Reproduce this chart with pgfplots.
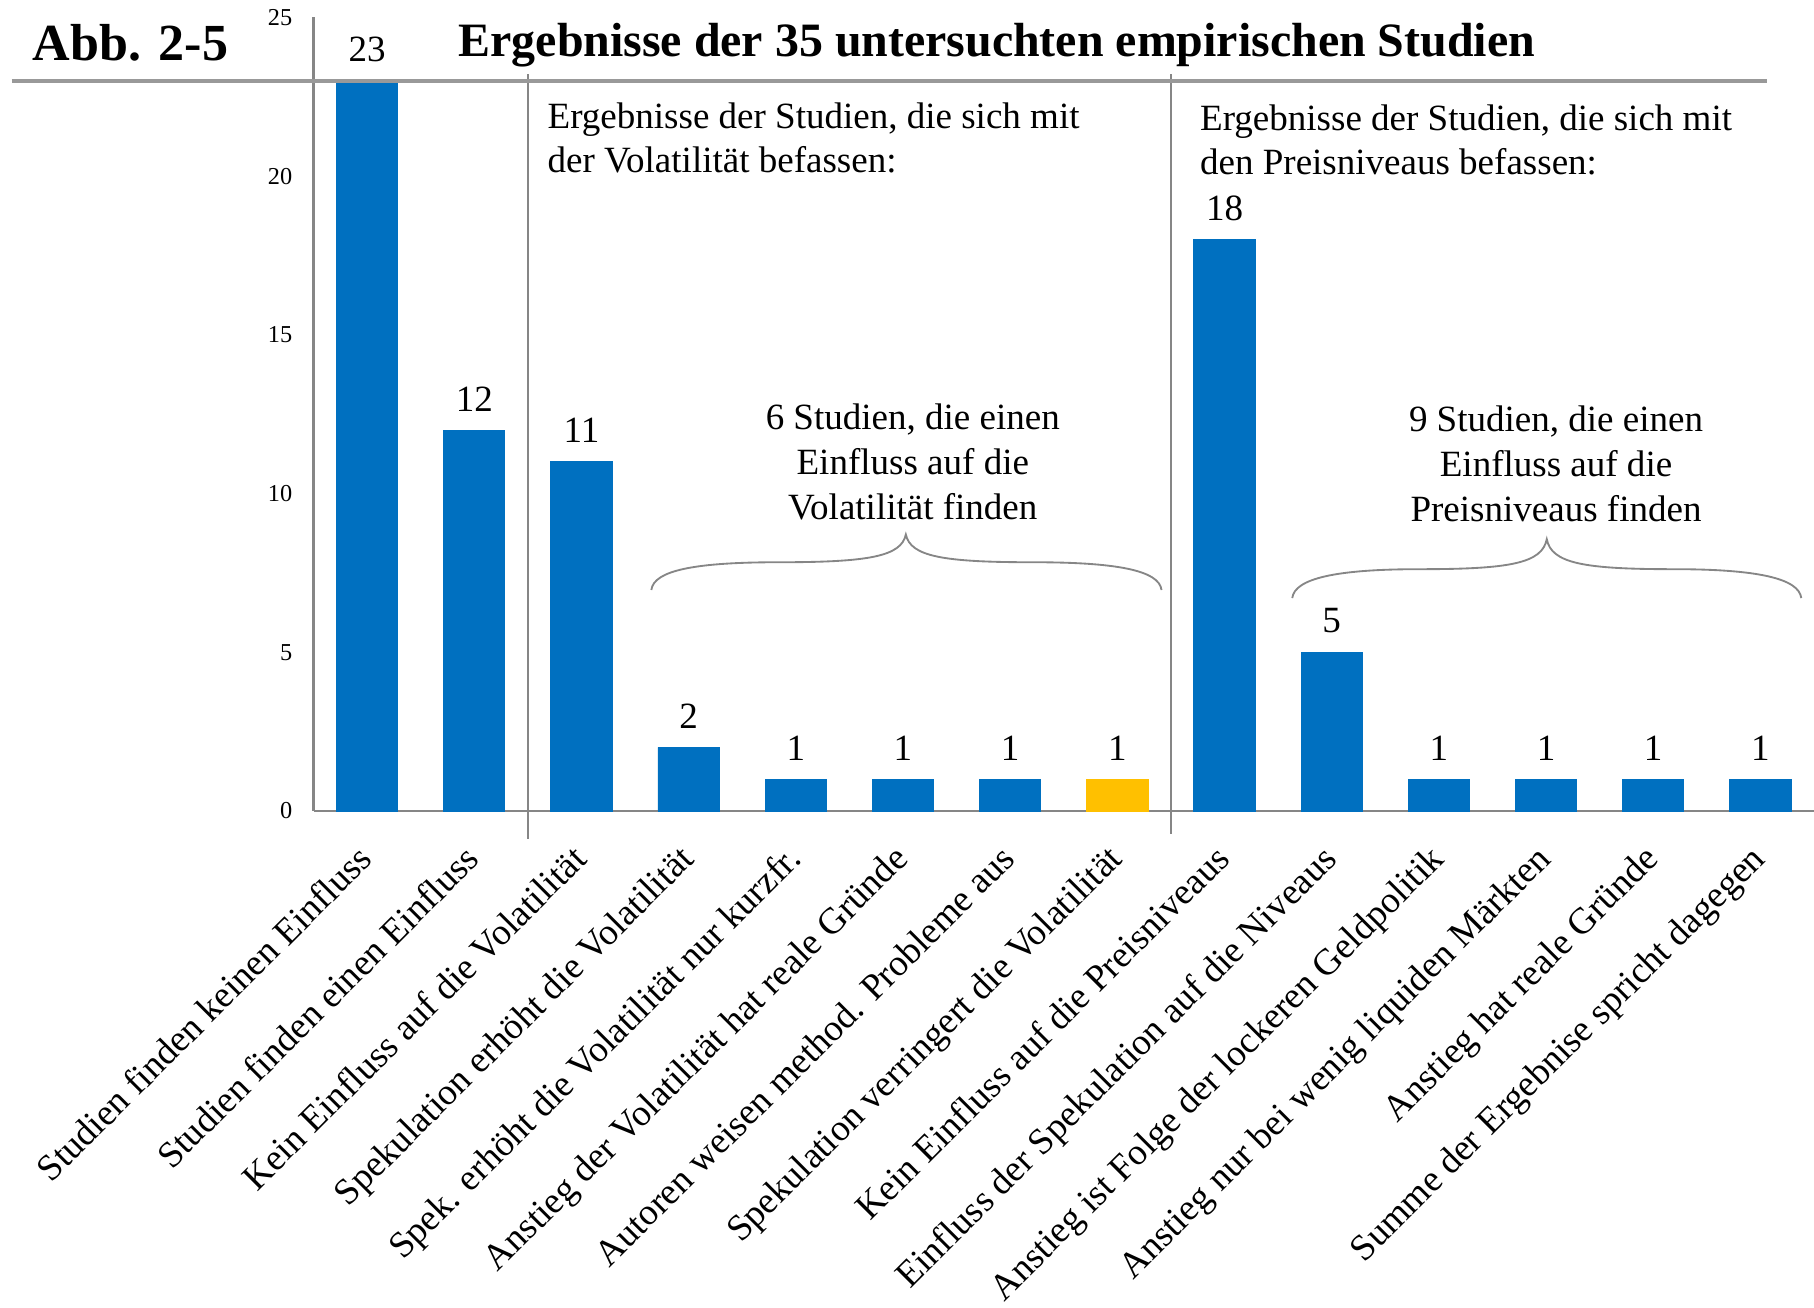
\documentclass[border=0pt]{standalone}
\usepackage{fontspec}
\setmainfont{Liberation Serif}
\usepackage{pgfplots}
\pgfplotsset{compat=1.18}
\definecolor{barblue}{HTML}{0070C0}
\definecolor{baryellow}{HTML}{FFC000}
\definecolor{axgray}{HTML}{868686}
\definecolor{linegray}{HTML}{999999}
\begin{document}
\begin{tikzpicture}
\useasboundingbox (-135.5pt,-214.5pt) rectangle (648.5pt,350.5pt);
\begin{axis}[
  at={(0pt,0pt)}, anchor=south west,
  scale only axis, width=648.5pt, height=343pt,
  xmin=-0.5, xmax=13.5, ymin=0, ymax=25,
  axis lines*=left,
  axis line style={draw=axgray, line width=0.9pt},
  ybar, bar width=26.5pt,
  ytick={0,5,10,15,20,25},
  xtick={0,1,2,3,4,5,6,7,8,9,10,11,12,13},
  major tick length=0pt,
  /pgf/number format/assume math mode=true,
  yticklabel style={font=\fontsize{10.5}{12}\selectfont, inner sep=0pt, xshift=-9pt},
  xticklabels={Studien finden keinen Einfluss,
    Studien finden einen Einfluss,
    Kein Einfluss auf die Volatilität,
    Spekulation erhöht die Volatilität,
    Spek. erhöht die Volatilität nur kurzfr.,
    Anstieg der Volatilität hat reale Gründe,
    Autoren weisen method. Probleme aus,
    Spekulation verringert die Volatilität,
    Kein Einfluss auf die Preisniveaus,
    Einfluss der Spekulation auf die Niveaus,
    Anstieg ist Folge der lockeren Geldpolitik,
    Anstieg nur bei wenig liquiden Märkten,
    Anstieg hat reale Gründe,
    Summe der Ergebnise spricht dagegen},
  xticklabel style={font=\fontsize{16}{19}\selectfont, inner sep=0pt, xshift=-5pt, yshift=-13.5pt, rotate=45, anchor=north east},
  nodes near coords,
  every node near coord/.append style={font=\fontsize{16}{19}\selectfont, text=black, inner sep=0pt, anchor=south, yshift=8pt},
  clip=false,
]
\addplot[fill=barblue, draw=barblue, bar shift=0pt] coordinates {
  (0,23) (1,12) (2,11) (3,2) (4,1) (5,1) (6,1) (8,18) (9,5) (10,1) (11,1) (12,1) (13,1)};
\addplot[fill=baryellow, draw=baryellow, bar shift=0pt] coordinates {(7,1)};
\draw[axgray, line width=0.7pt] (axis cs:1.5,23.21) -- (axis cs:1.5,-0.875);
\draw[axgray, line width=0.7pt] (axis cs:7.5,23.21) -- (axis cs:7.5,-0.73);
\end{axis}
% thick gray header line
\draw[linegray, line width=2pt] (-130.5pt,315.5pt) -- (628pt,315.5pt);
% header
\node[anchor=west, inner sep=0pt, font=\bfseries\fontsize{22.5}{26}\selectfont] at (-121.5pt,332pt) {Abb. 2-5};
\node[anchor=west, inner sep=0pt, font=\bfseries\fontsize{20.7}{25}\selectfont] at (62.5pt,331pt) {Ergebnisse der 35 untersuchten empirischen Studien};
% group texts
\node[anchor=west, inner sep=0pt, align=left, font=\fontsize{16}{19.2}\selectfont] at (101pt,291pt) {Ergebnisse der Studien, die sich mit\\der Volatilität befassen:};
\node[anchor=west, inner sep=0pt, align=left, font=\fontsize{16}{19.2}\selectfont] at (383pt,290pt) {Ergebnisse der Studien, die sich mit\\den Preisniveaus befassen:};
\node[inner sep=0pt, align=center, font=\fontsize{16}{19.4}\selectfont] at (259pt,151pt) {6 Studien, die einen\\Einfluss auf die\\Volatilität finden};
\node[inner sep=0pt, align=center, font=\fontsize{16}{19.4}\selectfont] at (537pt,150pt) {9 Studien, die einen\\Einfluss auf die\\Preisniveaus finden};
% braces
\draw[axgray, line width=0.8pt] (146pt,95.5pt) .. controls (147pt,104pt) and (165pt,107.5pt) .. (201pt,107.5pt)
  .. controls (240pt,107.5pt) and (254pt,110pt) .. (256pt,119.5pt)
  .. controls (258pt,110pt) and (272pt,107.5pt) .. (311pt,107.5pt)
  .. controls (347pt,107.5pt) and (365.5pt,104pt) .. (366.5pt,95.5pt);
\draw[axgray, line width=0.8pt] (423pt,92pt) .. controls (424pt,100.5pt) and (442pt,104.5pt) .. (478pt,104.5pt)
  .. controls (517pt,104.5pt) and (531pt,107pt) .. (533pt,117.5pt)
  .. controls (535pt,107pt) and (549pt,104.5pt) .. (588pt,104.5pt)
  .. controls (624pt,104.5pt) and (642pt,100.5pt) .. (643pt,92pt);
\end{tikzpicture}
\end{document}
